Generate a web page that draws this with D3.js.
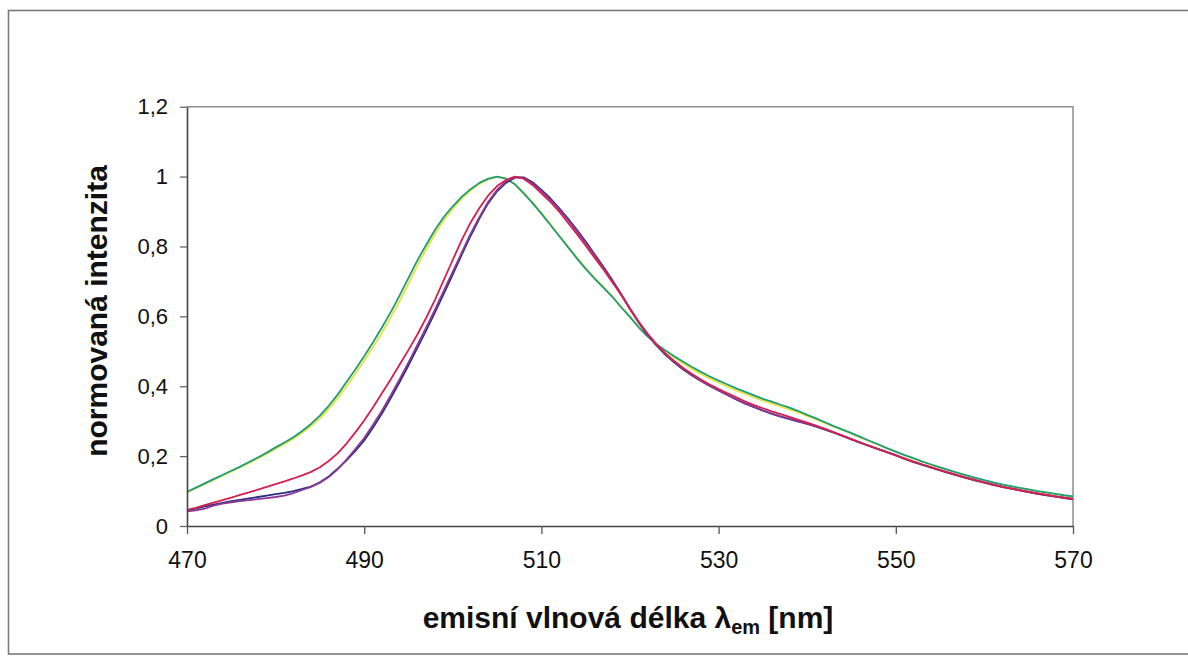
<!DOCTYPE html>
<html>
<head>
<meta charset="utf-8">
<script src="https://cdn.jsdelivr.net/npm/d3@7"></script>
<style>
  html, body { margin: 0; padding: 0; background: #fff; }
  svg { display: block; }
  text { font-family: "Liberation Sans", Arial, sans-serif; fill: #111; }
</style>
</head>
<body>
<svg id="chart" width="1188" height="657"></svg>
<script>
// Emission wavelength grid (nm)
const wavelengths = d3.range(470, 571, 1);

// Normalised emission spectra, one value per nanometre
const navySeries = [
  0.044,0.050,0.056,0.061,0.066,0.071,0.075,0.079,0.083,0.087,
  0.091,0.095,0.100,0.106,0.113,0.125,0.142,0.164,0.188,0.215,
  0.245,0.282,0.322,0.366,0.412,0.460,0.510,0.560,0.612,0.666,
  0.720,0.776,0.830,0.880,0.924,0.958,0.982,0.997,0.998,0.984,
  0.962,0.938,0.910,0.880,0.848,0.814,0.778,0.742,0.704,0.664,
  0.622,0.582,0.546,0.516,0.490,0.468,0.448,0.431,0.415,0.401,
  0.388,0.375,0.362,0.350,0.340,0.330,0.321,0.313,0.306,0.299,
  0.292,0.284,0.276,0.267,0.258,0.248,0.238,0.229,0.220,0.211,
  0.202,0.192,0.183,0.175,0.167,0.159,0.151,0.144,0.137,0.130,
  0.124,0.118,0.112,0.107,0.102,0.097,0.092,0.088,0.084,0.080,0.076
];
const purpleSeries = [
  0.042,0.045,0.050,0.058,0.064,0.068,0.071,0.074,0.077,0.080,
  0.083,0.087,0.094,0.103,0.112,0.124,0.140,0.162,0.190,0.220,
  0.252,0.290,0.330,0.374,0.420,0.468,0.518,0.568,0.620,0.674,
  0.728,0.782,0.836,0.884,0.928,0.962,0.986,0.999,0.996,0.980,
  0.958,0.934,0.906,0.876,0.844,0.810,0.775,0.739,0.701,0.662,
  0.621,0.582,0.547,0.517,0.492,0.470,0.450,0.432,0.416,0.402,
  0.388,0.375,0.362,0.351,0.341,0.331,0.322,0.314,0.307,0.300,
  0.293,0.285,0.277,0.268,0.259,0.249,0.239,0.230,0.221,0.212,
  0.203,0.193,0.184,0.176,0.168,0.160,0.152,0.145,0.138,0.131,
  0.125,0.119,0.113,0.108,0.103,0.098,0.093,0.089,0.085,0.081,0.078
];
const crimsonSeries = [
  0.046,0.052,0.060,0.067,0.074,0.081,0.089,0.096,0.104,0.112,
  0.120,0.128,0.136,0.145,0.155,0.168,0.186,0.208,0.236,0.268,
  0.302,0.340,0.380,0.420,0.462,0.504,0.548,0.596,0.648,0.705,
  0.762,0.818,0.868,0.910,0.946,0.973,0.990,1.000,0.994,0.976,
  0.952,0.928,0.900,0.868,0.836,0.802,0.768,0.734,0.698,0.662,
  0.622,0.584,0.550,0.520,0.494,0.472,0.452,0.435,0.419,0.405,
  0.392,0.380,0.368,0.356,0.346,0.337,0.328,0.320,0.312,0.304,
  0.296,0.287,0.278,0.268,0.258,0.248,0.239,0.229,0.220,0.211,
  0.202,0.193,0.184,0.176,0.168,0.160,0.153,0.145,0.138,0.131,
  0.124,0.118,0.112,0.107,0.102,0.097,0.093,0.089,0.085,0.081,0.077
];
const yellowSeries = [
  0.096,0.108,0.120,0.132,0.144,0.156,0.168,0.180,0.193,0.207,
  0.221,0.235,0.250,0.267,0.286,0.308,0.335,0.366,0.400,0.436,
  0.473,0.512,0.553,0.597,0.644,0.694,0.745,0.792,0.837,0.876,
  0.908,0.937,0.960,0.979,0.992,0.999,0.995,0.979,0.954,0.926,
  0.896,0.864,0.832,0.800,0.768,0.738,0.710,0.684,0.658,0.628,
  0.600,0.570,0.544,0.521,0.500,0.482,0.465,0.449,0.435,0.422,
  0.410,0.399,0.388,0.378,0.368,0.359,0.350,0.342,0.334,0.325,
  0.315,0.305,0.294,0.284,0.274,0.264,0.253,0.243,0.233,0.222,
  0.212,0.202,0.193,0.184,0.175,0.167,0.159,0.151,0.144,0.137,
  0.130,0.124,0.118,0.113,0.108,0.104,0.099,0.095,0.091,0.087,0.083
];
const tealSeries = [
  0.098,0.110,0.122,0.134,0.146,0.158,0.170,0.183,0.196,0.210,
  0.225,0.239,0.254,0.272,0.292,0.316,0.344,0.376,0.412,0.448,
  0.486,0.526,0.568,0.612,0.660,0.710,0.760,0.805,0.848,0.885,
  0.915,0.942,0.964,0.982,0.994,1.000,0.994,0.978,0.952,0.924,
  0.894,0.862,0.830,0.798,0.766,0.736,0.708,0.682,0.656,0.626,
  0.598,0.568,0.542,0.520,0.502,0.486,0.470,0.455,0.441,0.428,
  0.416,0.405,0.394,0.384,0.374,0.364,0.356,0.347,0.339,0.329,
  0.318,0.308,0.297,0.286,0.276,0.266,0.255,0.244,0.234,0.223,
  0.213,0.203,0.194,0.184,0.176,0.168,0.160,0.152,0.145,0.138,
  0.131,0.125,0.119,0.114,0.109,0.105,0.100,0.096,0.092,0.088,0.085
];

// Axis ticks
const xTicks = [470, 490, 510, 530, 550, 570];
const yTicks = [0, 0.2, 0.4, 0.6, 0.8, 1, 1.2];
const yTickLabels = ["0", "0,2", "0,4", "0,6", "0,8", "1", "1,2"];

// Drawing order (first drawn sits underneath)
const seriesList = [
  { values: yellowSeries,  color: "#e6e33a" },
  { values: tealSeries,    color: "#1f9c7a" },
  { values: navySeries,    color: "#2b2d80" },
  { values: purpleSeries,  color: "#8a3a94" },
  { values: crimsonSeries, color: "#d61f50" }
];

const svg = d3.select("#chart");

// Outer chart frame
svg.append("rect")
  .attr("x", 8.5).attr("y", 10.5)
  .attr("width", 1200).attr("height", 643.5)
  .attr("fill", "none").attr("stroke", "#7a7a7a").attr("stroke-width", 1.6);

const plot = { left: 187, right: 1073, top: 106.7, bottom: 526 };

const x = d3.scaleLinear().domain([470, 570]).range([plot.left, plot.right]);
const y = d3.scaleLinear().domain([0, 1.2]).range([plot.bottom, plot.top]);

// Plot area: top and right edges in grey
svg.append("path")
  .attr("d", `M${plot.left},${plot.top}H${plot.right}V${plot.bottom}`)
  .attr("fill", "none").attr("stroke", "#8e8e8e").attr("stroke-width", 1.5);

// Spectra
const line = d3.line()
  .x((d, i) => x(wavelengths[i]))
  .y(d => y(d));

svg.append("g").selectAll("path")
  .data(seriesList)
  .join("path")
  .attr("d", s => line(s.values))
  .attr("fill", "none")
  .attr("stroke", s => s.color)
  .attr("stroke-width", 1.8)
  .attr("stroke-linejoin", "round");

// Y axis
const yAxis = d3.axisLeft(y)
  .tickValues(yTicks)
  .tickFormat((d, i) => yTickLabels[i])
  .tickSizeInner(7).tickSizeOuter(0).tickPadding(12);

const gy = svg.append("g")
  .attr("transform", `translate(${plot.left},0)`)
  .call(yAxis);
gy.select(".domain").attr("stroke", "#444").attr("stroke-width", 1.6);
gy.selectAll(".tick line").attr("stroke", "#666").attr("stroke-width", 1.3);
gy.selectAll(".tick text")
  .attr("font-size", 22).attr("font-family", "Liberation Sans, Arial, sans-serif")
  .attr("fill", "#111");

// X axis
const xAxis = d3.axisBottom(x)
  .tickValues(xTicks)
  .tickFormat(d3.format("d"))
  .tickSizeInner(8).tickSizeOuter(0).tickPadding(18);

const gx = svg.append("g")
  .attr("transform", `translate(0,${plot.bottom})`)
  .call(xAxis);
gx.select(".domain").attr("stroke", "#444").attr("stroke-width", 1.6);
gx.selectAll(".tick line").attr("stroke", "#555").attr("stroke-width", 1.3);
gx.selectAll(".tick text")
  .attr("font-size", 23).attr("font-family", "Liberation Sans, Arial, sans-serif")
  .attr("fill", "#111");

// Axis titles
svg.append("text")
  .attr("transform", "translate(107,311) rotate(-90)")
  .attr("text-anchor", "middle")
  .attr("font-size", 30).attr("font-weight", "bold")
  .text("normovaná intenzita");

const xt = svg.append("text")
  .attr("x", 628).attr("y", 628)
  .attr("text-anchor", "middle")
  .attr("font-size", 30).attr("font-weight", "bold");
xt.append("tspan").text("emisní vlnová délka λ");
xt.append("tspan").attr("font-size", 20).attr("dy", 6).text("em");
xt.append("tspan").attr("dy", -6).text(" [nm]");
</script>
</body>
</html>
